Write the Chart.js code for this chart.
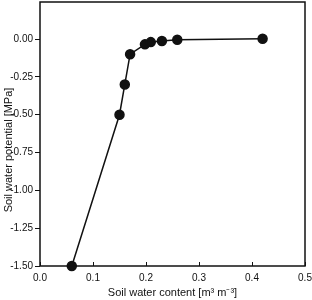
<!DOCTYPE html>
<html>
<head>
<meta charset="utf-8">
<script src="https://cdn.jsdelivr.net/npm/chart.js@4/dist/chart.umd.min.js"></script>
<style>
  html, body { margin: 0; padding: 0; background: #fff; }
  #wrap { width: 312px; height: 300px; position: relative; }
</style>
</head>
<body>
<div id="wrap"><canvas id="c"></canvas></div>
<script>
// soil water retention points
const waterContent = [0.06, 0.15, 0.16, 0.17, 0.198, 0.209, 0.23, 0.259, 0.42];
const waterPotential = [-1.5, -0.5, -0.3, -0.1, -0.035, -0.02, -0.013, -0.005, 0.002];
const xTicks = [0.0, 0.1, 0.2, 0.3, 0.4, 0.5];
const yTicks = [0.0, -0.25, -0.5, -0.75, -1.0, -1.25, -1.5];
const yTitle = 'Soil water potential [MPa]';

const ink = '#111';
const family = 'Liberation Sans, Arial, sans-serif';
const font = { family, size: 10 };
const titleFont = { family, size: 11 };

// box around plot area, inward ticks on the bottom axis, y title (sits a bit low in the original)
const frame = {
  id: 'frame',
  afterDraw(chart) {
    const { ctx, chartArea: a, scales } = chart;
    ctx.save();
    ctx.strokeStyle = ink;
    ctx.lineWidth = 1.5;
    ctx.strokeRect(a.left, a.top, a.right - a.left, a.bottom - a.top);
    ctx.lineWidth = 1;
    xTicks.forEach(v => {
      const px = Math.round(scales.x.getPixelForValue(v)) + 0.5;
      ctx.beginPath();
      ctx.moveTo(px, a.bottom);
      ctx.lineTo(px, a.bottom - 4);
      ctx.stroke();
    });
    ctx.translate(9, (a.top + a.bottom) / 2 + 16);
    ctx.rotate(-Math.PI / 2);
    ctx.fillStyle = ink;
    ctx.font = `${titleFont.size}px ${titleFont.family}`;
    ctx.textAlign = 'center';
    ctx.textBaseline = 'middle';
    ctx.fillText(yTitle, 0, 0);
    ctx.restore();
  }
};

new Chart(document.getElementById('c'), {
  type: 'scatter',
  data: {
    datasets: [{
      data: waterContent.map((x, i) => ({ x, y: waterPotential[i] })),
      showLine: true,
      borderColor: ink,
      backgroundColor: ink,
      borderWidth: 1.5,
      pointRadius: 4.5,
      pointHoverRadius: 4.5,
      clip: false,
    }],
  },
  options: {
    responsive: true,
    maintainAspectRatio: false,
    animation: false,
    layout: { autoPadding: false, padding: { top: 2, right: 7, left: 0, bottom: 0 } },
    plugins: { legend: { display: false }, tooltip: { enabled: false } },
    scales: {
      x: {
        type: 'linear',
        min: 0,
        max: 0.5,
        afterBuildTicks: (s) => { s.ticks = xTicks.map(value => ({ value })); },
        afterFit: (s) => { s.height = 34; s.paddingLeft = 0; s.paddingRight = 0; },
        grid: { display: false, drawTicks: false },
        border: { display: false },
        ticks: { color: ink, font, padding: 6, maxRotation: 0, callback: (v) => v.toFixed(1) },
        title: { display: true, text: 'Soil water content [m³ m⁻³]', color: ink, font: titleFont, padding: { top: 2, bottom: 0 } },
      },
      y: {
        type: 'linear',
        min: -1.5,
        max: 0.245,
        afterBuildTicks: (s) => { s.ticks = yTicks.map(value => ({ value })); },
        afterFit: (s) => { s.width = 40; s.paddingTop = 0; s.paddingBottom = 0; },
        grid: { display: true, drawOnChartArea: false, drawTicks: true, tickLength: 5, color: ink },
        border: { display: false },
        ticks: { color: ink, font, padding: 2, callback: (v) => v.toFixed(2) },
        title: { display: false },
      },
    },
  },
  plugins: [frame],
});
</script>
</body>
</html>
